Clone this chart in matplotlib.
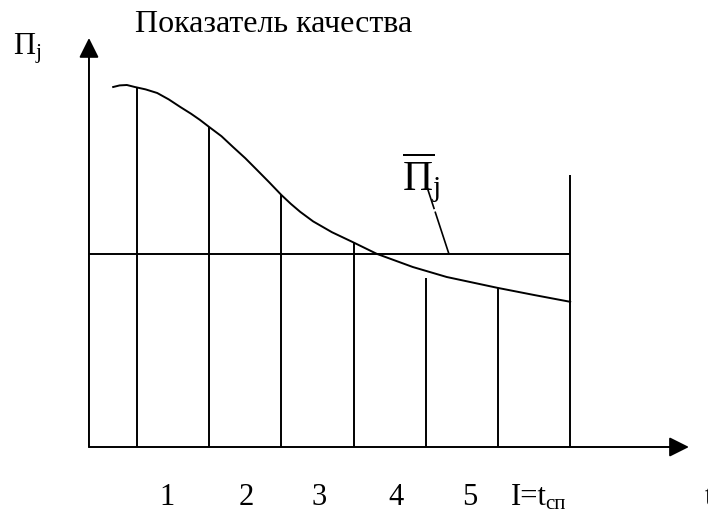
import matplotlib
matplotlib.use("Agg")
import matplotlib.pyplot as plt

# показатель качества по интервалам (схема)
boundaries = [0, 1, 2, 3, 4, 5, 6]
ordinate_tops = [9.0, 8.0, 6.3, 5.1, 4.23, 3.98, 6.8]

curve_x = [-0.33, -0.24, -0.14, -0.03, 0.12, 0.28, 0.44, 0.60, 0.75, 0.87,
           1.0, 1.17, 1.33, 1.50, 1.66, 1.83, 2.0, 2.13, 2.26, 2.44,
           2.70, 2.98, 3.32, 3.82, 4.29, 4.99, 5.50, 6.0]
curve_y = [9.0, 9.04, 9.05, 9.0, 8.94, 8.85, 8.69, 8.5, 8.33, 8.18,
           8.0, 7.77, 7.5, 7.22, 6.93, 6.62, 6.3, 6.08, 5.88, 5.64,
           5.37, 5.13, 4.83, 4.5, 4.25, 3.98, 3.8, 3.63]

mean_level = 4.83

interval_labels = ['1', '2', '3', '4', '5']
label_x = [0.42, 1.51, 2.52, 3.59, 4.61]

title = 'Показатель качества'

plt.rcParams['font.family'] = ['Liberation Serif', 'DejaVu Serif']
plt.rcParams['mathtext.fontset'] = 'custom'
plt.rcParams['mathtext.rm'] = 'Liberation Serif'
plt.rcParams['mathtext.it'] = 'Liberation Serif:italic'

fig = plt.figure(figsize=(7.08, 5.19), dpi=100)
ax = fig.add_axes([0, 0, 1, 1])
ax.set_xlim(-1.8975, 7.909)
ax.set_ylim(-1.8, 11.175)
ax.axis('off')

x0 = -0.665
lw = 1.4
col = 'black'

# оси со стрелками
arrow = dict(arrowstyle='-|>,head_length=0.6,head_width=0.3', mutation_scale=20,
             lw=lw, color=col, shrinkA=0, shrinkB=0)
ax.annotate('', xy=(7.645, 0), xytext=(x0, 0), arrowprops=arrow)
ax.annotate('', xy=(x0, 10.225), xytext=(x0, 0), arrowprops=arrow)

# ординаты
ax.vlines(boundaries, 0, ordinate_tops, colors=col, lw=lw)

# средний уровень
ax.hlines(mean_level, x0, boundaries[-1], colors=col, lw=lw)

# кривая
ax.plot(curve_x, curve_y, color=col, lw=lw, solid_joinstyle='round')

# выноска к среднему
ax.plot([4.017, 4.32], [6.5, mean_level], color=col, lw=1.2,
        linestyle=(0, (14, 1.5, 40, 0)))

# подписи
ax.text(-0.0277, 10.375, title, fontsize=23, ha='left', va='baseline')
ax.text(-1.717, 9.8, r'$\mathrm{П}_{\mathrm{j}}$', fontsize=22, ha='left', va='baseline')
ax.text(3.67, 6.425, r'$\overline{\mathrm{П}}_{\mathrm{j}}$', fontsize=30,
        ha='left', va='baseline')

for lx, lab in zip(label_x, interval_labels):
    ax.text(lx, -1.45, lab, fontsize=22, ha='center', va='baseline')
ax.text(5.18, -1.45, 'I=t', fontsize=22, ha='left', va='baseline')
ax.text(5.66, -1.55, 'сп', fontsize=15, ha='left', va='baseline')
ax.text(7.86, -1.45, 't', fontsize=22, ha='left', va='baseline')

fig.savefig('out.png', dpi=100)
